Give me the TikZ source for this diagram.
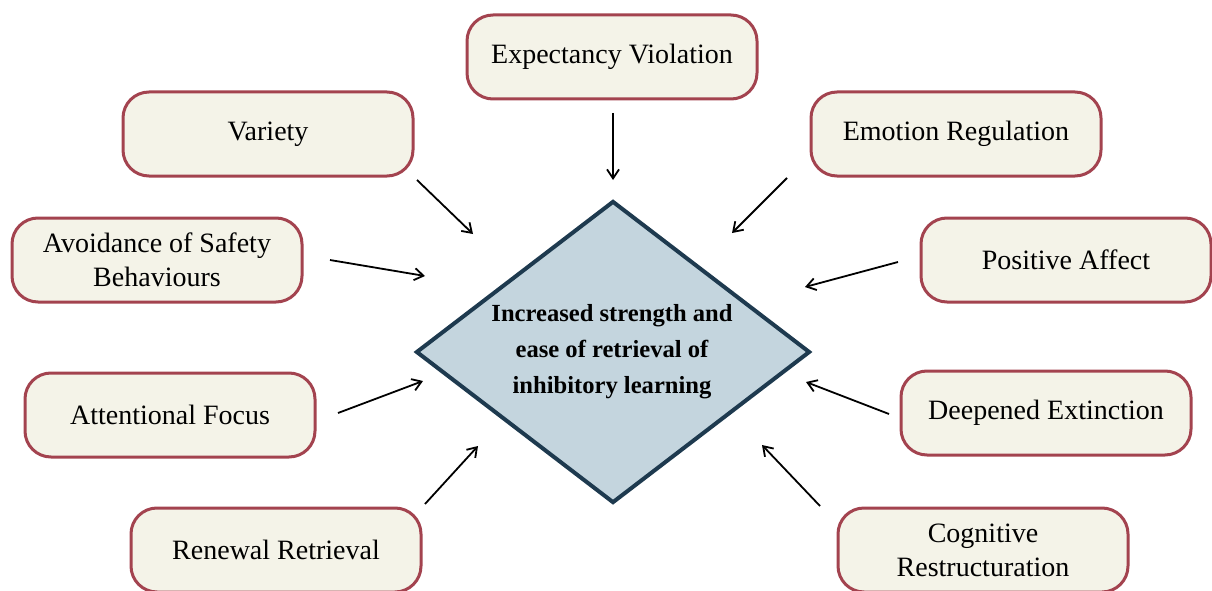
\documentclass[tikz,border=0pt]{standalone}
\usepackage{fontspec}
\setmainfont{Liberation Serif}
\usetikzlibrary{shapes.geometric,arrows.meta}
\definecolor{boxfill}{HTML}{F4F3E8}
\definecolor{boxdraw}{HTML}{A3434F}
\definecolor{dfill}{HTML}{C4D5DE}
\definecolor{ddraw}{HTML}{1E3A4F}
\begin{document}
\begin{tikzpicture}[x=1pt,y=-1pt,
  factor/.style={draw=boxdraw, fill=boxfill, line width=3pt, rounded corners=26pt,
    minimum width=290pt, minimum height=84pt, align=center,
    font=\fontsize{28}{34}\selectfont, inner sep=0pt},
  arr/.style={-{Straight Barb[length=9pt,width=12pt,line width=1.8pt]}, line width=1.8pt, black}
]
\useasboundingbox (0,0) rectangle (1212,591);
\node[draw=ddraw, fill=dfill, line width=4pt, diamond, minimum width=394pt, minimum height=302pt, inner sep=0pt] (c) at (613,352) {};
\node[align=center, font=\bfseries\fontsize{24.6}{36}\selectfont] (ct) at (612,352) {Increased strength and\\ease of retrieval of\\inhibitory learning};

\node[factor] (ev) at (612,57) {Expectancy Violation};
\node[factor] (va) at (268,134) {Variety};
\node[factor] (er) at (956,134) {Emotion Regulation};
\node[factor] (av) at (157,260) {Avoidance of Safety\\Behaviours};
\node[factor] (pa) at (1066,260) {Positive Affect};
\node[factor] (af) at (170,415) {Attentional Focus};
\node[factor] (de) at (1046,413) {Deepened Extinction};
\node[factor] (rr) at (276,550) {Renewal Retrieval};
\node[factor] (cr) at (983,550) {Cognitive\\Restructuration};

\coordinate (ev1) at (613,113); \coordinate (ev2) at (613,180);
\coordinate (va1) at (417,180); \coordinate (va2) at (473,234);
\coordinate (er1) at (787,178); \coordinate (er2) at (732,233);
\coordinate (av1) at (330,260); \coordinate (av2) at (425,276);
\coordinate (pa1) at (898,262); \coordinate (pa2) at (805,287);
\coordinate (af1) at (338,413); \coordinate (af2) at (423,381);
\coordinate (de1) at (889,414); \coordinate (de2) at (806,382);
\coordinate (rr1) at (425,504); \coordinate (rr2) at (478,446);
\coordinate (cr1) at (820,506); \coordinate (cr2) at (762,445);
\foreach \n in {ev,va,er,av,pa,af,de,rr,cr}{\draw[arr] (\n1) -- (\n2);}
\end{tikzpicture}
\end{document}
